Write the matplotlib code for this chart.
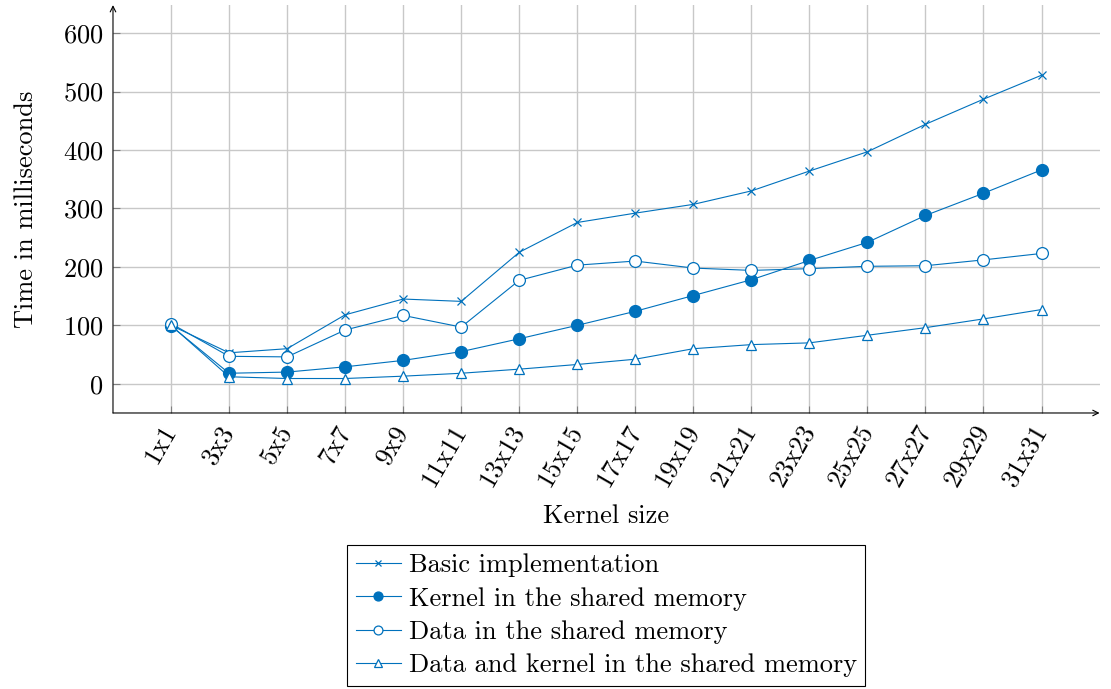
import matplotlib
matplotlib.use('Agg')
import matplotlib.pyplot as plt

plt.rcParams['font.family'] = ['cmr10', 'DejaVu Serif']
plt.rcParams['mathtext.fontset'] = 'cm'
plt.rcParams['axes.formatter.use_mathtext'] = True

kernels = ['1x1', '3x3', '5x5', '7x7', '9x9', '11x11', '13x13', '15x15',
           '17x17', '19x19', '21x21', '23x23', '25x25', '27x27', '29x29', '31x31']
basic = [100, 53, 60, 118, 145, 141, 225, 276, 292, 307, 330, 364, 397, 444, 487, 528]
kernel_shared = [99, 18, 20, 29, 40, 55, 77, 100, 124, 151, 178, 211, 242, 288, 326, 366]
data_shared = [103, 47, 46, 92, 117, 97, 177, 203, 210, 198, 194, 197, 201, 202, 212, 223]
both_shared = [100, 12, 9, 9, 13, 18, 25, 33, 42, 60, 67, 70, 83, 96, 111, 127]

labels = ['Basic implementation', 'Kernel in the shared memory',
          'Data in the shared memory', 'Data and kernel in the shared memory']

blue = '#0071BC'
fs = 19
fig = plt.figure(figsize=(11.11, 6.89), dpi=100)
ax = fig.add_axes([0.1017, 0.4006, 0.888, 0.592])

x = list(range(len(kernels)))
ax.plot(x, basic, color=blue, lw=0.8, marker='x', ms=6, mew=0.9, label=labels[0])
ax.plot(x, kernel_shared, color=blue, lw=0.8, marker='o', ms=8.5, label=labels[1])
ax.plot(x, data_shared, color=blue, lw=0.8, marker='o', ms=8.5, mfc='white', mew=0.9, label=labels[2])
ax.plot(x, both_shared, color=blue, lw=0.8, marker='^', ms=7, mfc='white', mew=0.9, label=labels[3])

ax.set_xlim(-1, 16)
ax.set_ylim(-50, 648)
ax.set_xticks(x)
ax.set_xticklabels(kernels, rotation=60, ha='right', va='center', rotation_mode='anchor', fontsize=fs)
ax.set_yticks(range(0, 700, 100))
ax.tick_params(axis='y', labelsize=fs, pad=7)
ax.tick_params(axis='x', pad=10)
ax.tick_params(direction='in', length=5, color='#808080', width=0.8)
ax.grid(True, color='#c8c8c8', lw=1)
ax.set_axisbelow(True)

for s in ['top', 'right', 'left', 'bottom']:
    ax.spines[s].set_visible(False)
ax.annotate('', xy=(1, 0), xytext=(0, 0), xycoords='axes fraction',
            arrowprops=dict(arrowstyle='->', lw=0.8, color='black', shrinkA=0, shrinkB=0))
ax.annotate('', xy=(0, 1), xytext=(0, 0), xycoords='axes fraction',
            arrowprops=dict(arrowstyle='->', lw=0.8, color='black', shrinkA=0, shrinkB=0))

ax.set_xlabel('Kernel size', fontsize=fs, labelpad=10)
ax.set_ylabel('Time in milliseconds', fontsize=fs, labelpad=18)

leg = ax.legend(loc='upper center', bbox_to_anchor=(0.5, -0.3235), fontsize=fs,
                fancybox=False, edgecolor='black', framealpha=1, handlelength=1.7,
                handletextpad=0.3, labelspacing=0.36, borderpad=0.33, borderaxespad=0,
                markerscale=0.75)
leg.get_frame().set_linewidth(0.8)

fig.savefig('out.png', dpi=100)
